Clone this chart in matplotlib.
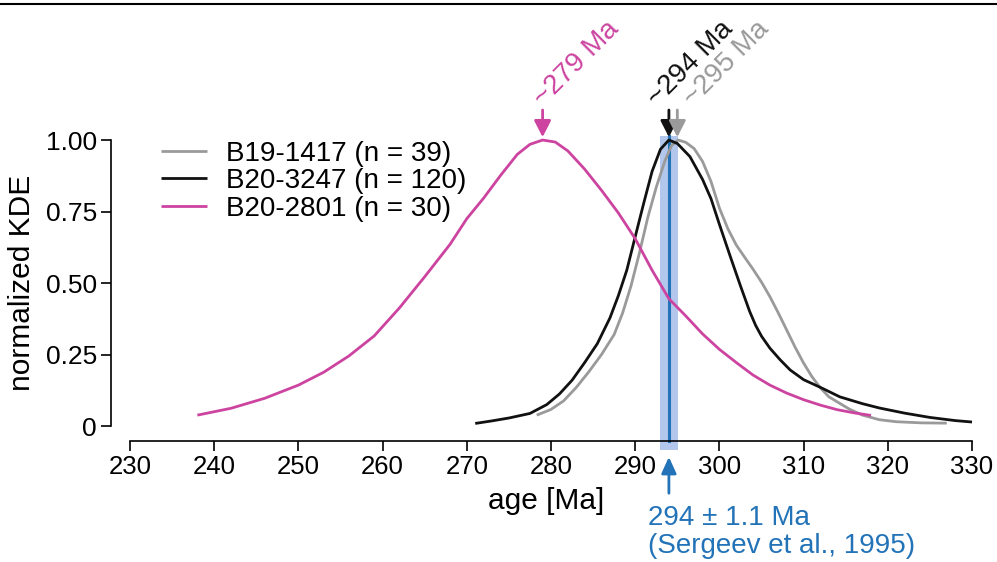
import numpy as np
import matplotlib
matplotlib.use("Agg")
import matplotlib.pyplot as plt
from matplotlib.lines import Line2D
from matplotlib.patches import Rectangle

plt.rcParams['font.family'] = ['Liberation Sans', 'DejaVu Sans']
plt.rcParams['font.size'] = 18

# KDE curves (age in Ma, normalized density)
age_1417 = [278.3, 280, 281.5, 283, 284.5, 286, 287.5, 288.5, 289.5, 290.5,
            291.5, 292.5, 293.5, 294.3, 295.1, 296, 297, 298, 299, 300, 301,
            302, 303, 304, 305, 306, 307, 308, 309, 310, 311, 312, 313, 314.3,
            315.5, 317, 319, 321, 324, 327]
kde_1417 = [0.038, 0.058, 0.088, 0.135, 0.190, 0.250, 0.320, 0.395, 0.490,
            0.605, 0.730, 0.835, 0.925, 0.980, 1.000, 0.992, 0.970, 0.925,
            0.855, 0.762, 0.690, 0.633, 0.590, 0.548, 0.503, 0.452, 0.395,
            0.335, 0.275, 0.220, 0.172, 0.133, 0.102, 0.079, 0.058, 0.038,
            0.022, 0.015, 0.011, 0.010]

age_3247 = [271, 273, 275, 277.5, 279.5, 281, 282.5, 284, 285.5, 287, 288,
            289, 290, 291, 292, 293, 294, 295, 296.5, 298, 299, 300, 301.3,
            302.5, 303.6, 304.3, 305, 306, 307.2, 308.4, 310, 312, 314.3, 317,
            319, 322, 325, 328, 330]
kde_3247 = [0.009, 0.018, 0.028, 0.044, 0.075, 0.112, 0.160, 0.222, 0.288,
            0.378, 0.456, 0.545, 0.662, 0.778, 0.890, 0.968, 1.000, 0.988,
            0.942, 0.862, 0.795, 0.705, 0.592, 0.490, 0.400, 0.352, 0.314,
            0.272, 0.232, 0.196, 0.162, 0.135, 0.102, 0.078, 0.063, 0.045,
            0.030, 0.019, 0.014]

age_2801 = [238, 242, 246, 250, 253, 256, 259, 262, 265, 268, 270, 272, 274,
            276, 277.5, 279, 280.5, 282, 284, 286, 288, 290, 292, 294, 296,
            298, 300, 302, 304, 306, 308, 310, 312, 314, 316, 318]
kde_2801 = [0.038, 0.062, 0.097, 0.143, 0.188, 0.245, 0.315, 0.413, 0.522,
            0.635, 0.725, 0.797, 0.876, 0.950, 0.985, 1.000, 0.993, 0.962,
            0.898, 0.824, 0.745, 0.655, 0.545, 0.445, 0.385, 0.322, 0.268,
            0.222, 0.178, 0.143, 0.115, 0.092, 0.073, 0.057, 0.046, 0.037]

series = [
    ("B19-1417 (n = 39)", age_1417, kde_1417, "#9a9a9a"),
    ("B20-3247 (n = 120)", age_3247, kde_3247, "#111111"),
    ("B20-2801 (n = 30)", age_2801, kde_2801, "#cc44a0"),
]

# peak ages: label, age, colour, label start
peaks = [("~279 Ma", 279, "#cc44a0", 279.1),
         ("~294 Ma", 294, "#111111", 292.6),
         ("~295 Ma", 295, "#9a9a9a", 296.9)]

ref_age = 294
ref_err = 1.1
ref_label = "294 ± 1.1 Ma\n(Sergeev et al., 1995)"
blue = "#2373b8"

fig = plt.figure(figsize=(9.97, 5.62), dpi=100)
ax = fig.add_axes([0.1113, 0.2153, 0.9834 - 0.1113, 0.761 - 0.2153])
ax.set_xlim(227.74, 331)
ax.set_ylim(-0.0524, 1.02)

# reference age band
ax.add_patch(Rectangle((ref_age - ref_err, -0.084), 2 * ref_err, 1.098,
                       facecolor="#b3c6ec", edgecolor="none", zorder=1,
                       clip_on=False))
ax.plot([ref_age, ref_age], [-0.0524, 1.014], color=blue, lw=2.2, zorder=1.5,
        clip_on=False)

for label, x, y, c in series:
    ax.plot(x, y, color=c, lw=2.0, label=label, zorder=2, clip_on=False,
            solid_capstyle="butt", solid_joinstyle="round")

for txt, xp, c, xt in peaks:
    ax.annotate("", xy=(xp, 1.010), xytext=(xp, 1.105),
                arrowprops=dict(arrowstyle="-|>,head_length=0.55,head_width=0.28",
                                color=c, lw=2.0, shrinkA=0, shrinkB=0),
                annotation_clip=False)
    ax.text(xt, 1.117, txt, color=c, rotation=45, rotation_mode="anchor",
            ha="left", va="baseline", fontsize=20, clip_on=False)

# reference arrow and label below the axis
ax.annotate("", xy=(ref_age, -0.108), xytext=(ref_age, -0.235),
            arrowprops=dict(arrowstyle="-|>,head_length=0.55,head_width=0.25",
                            color=blue, lw=2.0, shrinkA=0, shrinkB=0),
            annotation_clip=False)
ax.text(291.5, -0.276, ref_label, color=blue, ha="left", va="top",
        fontsize=20, linespacing=1.08, clip_on=False)

for s in ("top", "right"):
    ax.spines[s].set_visible(False)
ax.spines["left"].set_bounds(0, 1)
ax.spines["bottom"].set_bounds(230, 330)
for s in ("left", "bottom"):
    ax.spines[s].set_linewidth(1.2)
ax.set_xticks(np.arange(230, 331, 10))
ax.set_yticks([0, 0.25, 0.5, 0.75, 1.0])
ax.set_yticklabels(["0", "0.25", "0.50", "0.75", "1.00"])
ax.tick_params(axis="both", length=7, width=1.2, pad=3)
ax.tick_params(axis="x", labelsize=18.5)
ax.tick_params(axis="y", labelsize=19)
ax.set_xlabel("age [Ma]", fontsize=21.5, labelpad=6)
ax.set_ylabel("normalized KDE", fontsize=21.5)
ax.yaxis.set_label_coords(-0.086, 0.515)

ax.legend(loc="upper left", bbox_to_anchor=(0.045, 1.015), frameon=False,
          handlelength=1.65, handletextpad=0.68, labelspacing=0.05,
          borderaxespad=0, fontsize=20)

fig.add_artist(Line2D([0, 1], [1 - 3.5 / 562] * 2, color="black", lw=1.5,
                      transform=fig.transFigure))

fig.savefig("out.png", dpi=100)
